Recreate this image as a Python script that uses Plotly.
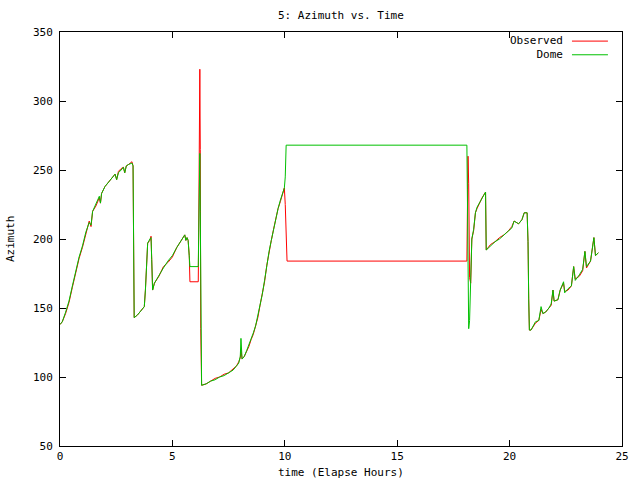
import plotly.graph_objects as go

hours = [0.00, 0.10, 0.25, 0.40, 0.55, 0.70, 0.85, 1.00, 1.15, 1.30, 1.38, 1.45, 1.60, 1.75, 1.80, 1.85,
         2.00, 2.15, 2.30, 2.45, 2.52, 2.60, 2.72, 2.82, 2.88, 2.95, 3.05, 3.20, 3.25, 3.27, 3.30, 3.45,
         3.60, 3.75, 3.80, 3.85, 3.90, 4.00, 4.05, 4.08, 4.12, 4.20, 4.40, 4.60, 4.80, 5.00, 5.20, 5.40,
         5.55, 5.60, 5.65, 5.70, 5.75, 5.78, 6.15, 6.17, 6.20, 6.22, 6.24, 6.26, 6.30, 6.50, 6.70, 6.90,
         7.10, 7.30, 7.50, 7.70, 7.85, 7.95, 8.02, 8.05, 8.10, 8.20, 8.30, 8.40, 8.50, 8.60, 8.70, 8.80,
         8.90, 9.00, 9.10, 9.20, 9.30, 9.40, 9.50, 9.60, 9.70, 9.80, 9.90, 9.98, 10.02, 10.06, 10.10,
         18.10, 18.12, 18.15, 18.18, 18.22, 18.27, 18.32, 18.40, 18.48, 18.55, 18.65, 18.78, 18.93, 18.96,
         19.15, 19.35, 19.55, 19.75, 19.95, 20.10, 20.20, 20.30, 20.40, 20.55, 20.65, 20.78, 20.82, 20.85,
         20.88, 20.95, 21.05, 21.15, 21.30, 21.40, 21.48, 21.60, 21.75, 21.85, 21.93, 21.98, 22.15, 22.25,
         22.40, 22.45, 22.60, 22.75, 22.85, 22.92, 23.10, 23.25, 23.35, 23.42, 23.60, 23.75, 23.82, 23.95]

dome = [138, 140, 147, 155, 166, 177, 187, 195, 205, 212, 210, 220, 225, 231, 226, 233,
        238, 241, 244, 247, 243, 248, 250, 252, 248, 253, 254, 255, 253, 170, 143, 145,
        148, 151, 163, 185, 197, 200, 201, 185, 163, 168, 174, 179, 184, 188, 194, 199,
        203, 199, 201, 199, 190, 180, 180, 207, 262, 262, 220, 150, 94, 95, 97, 98,
        100, 101, 103, 105, 108, 110, 115, 128, 113, 115, 119, 123, 127, 132, 137, 144,
        153, 160, 170, 181, 191, 199, 207, 215, 222, 228, 233, 237, 245, 268, 268,
        268, 236, 168, 135, 141, 171, 200, 207, 219, 223, 226, 230, 234, 192,
        195, 198, 200, 203, 206, 208, 213, 212, 211, 214, 219, 219, 198, 156,
        134, 134, 137, 140, 141, 151, 146, 147, 150, 153, 163, 155, 156, 163,
        169, 161, 164, 166, 180, 170, 174, 178, 191, 180, 184, 201, 188, 190]

observed = [138, 140, 146, 154, 165, 176, 186, 194, 204, 213, 209, 220, 224, 230, 226, 233,
            238, 241, 244, 247, 243, 249, 251, 252, 248, 253, 254, 256, 253, 226, 143, 145,
            148, 151, 163, 185, 197, 199, 202, 185, 163, 168, 173, 180, 183, 187, 194, 199,
            203, 199, 201, 199, 188, 169, 169, 205, 284, 323, 265, 135, 94, 95, 97, 99,
            100, 102, 103, 106, 108, 111, 114, 120, 113, 115, 118, 122, 127, 131, 137, 143,
            152, 160, 169, 181, 191, 199, 207, 215, 222, 227, 233, 237, 225, 196, 184,
            184, 203, 260, 240, 172, 168, 200, 206, 219, 222, 226, 230, 234, 192,
            196, 198, 201, 203, 206, 209, 213, 212, 211, 214, 219, 219, 198, 157,
            134, 134, 137, 139, 141, 149, 146, 147, 150, 152, 163, 155, 156, 163,
            168, 162, 163, 166, 180, 171, 173, 177, 191, 179, 184, 201, 188, 190]

x_ticks = [0, 5, 10, 15, 20, 25]
y_ticks = [50, 100, 150, 200, 250, 300, 350]

FONT = "DejaVu Sans Mono"
RED = "#ff0000"
GREEN = "#00c000"

fig = go.Figure()
fig.add_trace(go.Scatter(x=hours, y=observed, mode="lines", name="Observed",
                         line=dict(color=RED, width=1)))
fig.add_trace(go.Scatter(x=hours, y=dome, mode="lines", name="Dome",
                         line=dict(color=GREEN, width=1)))

axis_common = dict(showgrid=False, zeroline=False, showline=True, linecolor="black",
                   linewidth=1, mirror="allticks", ticks="inside", ticklen=6,
                   tickcolor="black", tickfont=dict(family=FONT, size=11, color="black"))

fig.update_layout(
    width=640, height=480,
    paper_bgcolor="white", plot_bgcolor="white",
    margin=dict(l=60, r=18, t=32, b=34),
    showlegend=False,
    xaxis=dict(range=[0, 25], tickvals=x_ticks, **axis_common),
    yaxis=dict(range=[50, 350], tickvals=y_ticks, ticklabelstandoff=4, **axis_common),
    annotations=[
        dict(text="5: Azimuth vs. Time", xref="paper", yref="paper", x=0.5, y=1,
             yanchor="middle", yshift=17, showarrow=False,
             font=dict(family=FONT, size=11, color="black")),
        dict(text="time (Elapse Hours)", xref="paper", yref="paper", x=0.5, y=0,
             yanchor="middle", yshift=-26, showarrow=False,
             font=dict(family=FONT, size=11, color="black")),
        dict(text="Azimuth", xref="paper", yref="paper", x=0, y=0.5, xanchor="center",
             yanchor="middle", xshift=-50, textangle=-90, showarrow=False, borderpad=0,
             font=dict(family=FONT, size=11, color="black")),
        dict(text="Observed<br>Dome", xref="paper", yref="paper", x=0.899, y=0.962,
             xanchor="right", yanchor="middle", align="right", showarrow=False,
             font=dict(family=FONT, size=11, color="black")),
    ],
    shapes=[
        dict(type="line", xref="paper", yref="paper", x0=0.911, x1=0.975, y0=0.978, y1=0.978,
             line=dict(color=RED, width=1)),
        dict(type="line", xref="paper", yref="paper", x0=0.911, x1=0.975, y0=0.945, y1=0.945,
             line=dict(color=GREEN, width=1)),
    ],
)

# remove the default page margin so the 640x480 figure fills the window exactly
fig.write_html("out.html", config={"displayModeBar": False},
               post_script="document.body.style.margin='0px';")
